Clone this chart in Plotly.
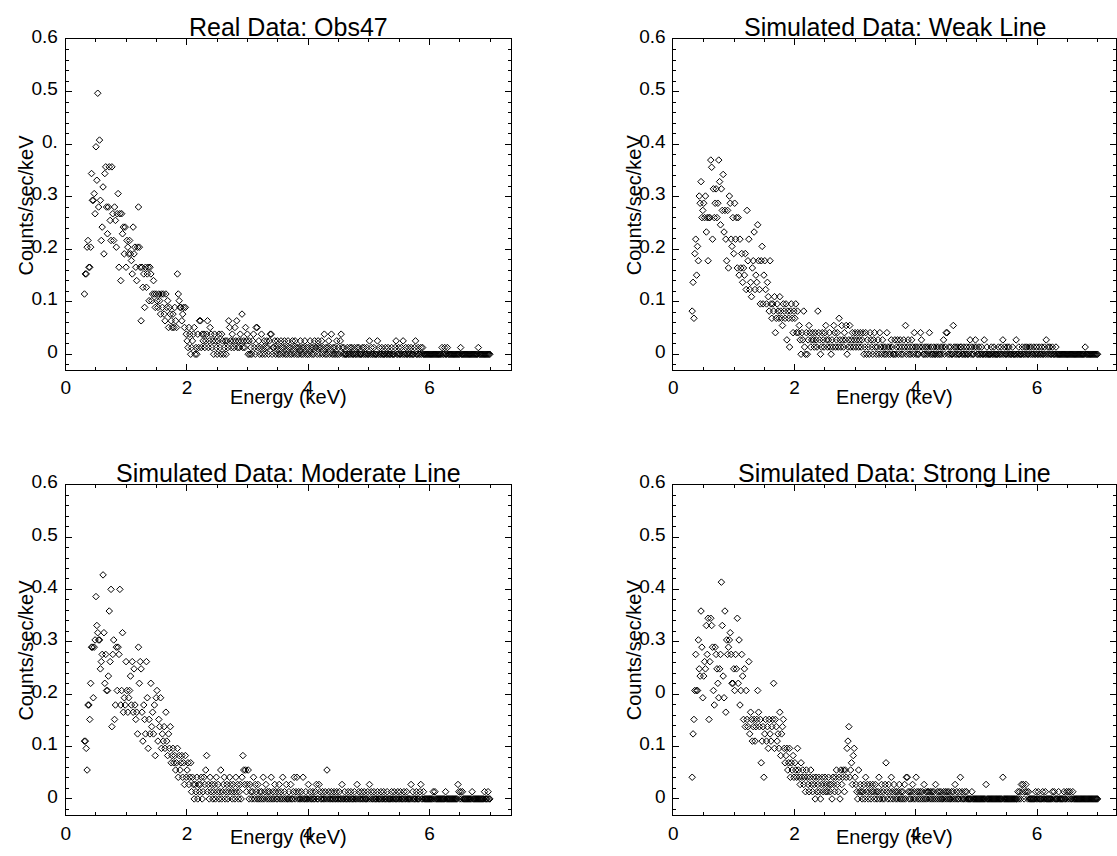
import numpy as np
import plotly.graph_objects as go

# Spectral channel grid (keV)
FIRST_CHANNEL_KEV = 0.31
CHANNEL_WIDTH_KEV = 0.0146

# Counts per channel for each spectrum
obs47_counts = [
    9, 12, 12, 16, 17, 13, 13, 16, 27, 23,
    23, 24, 21, 31, 26, 39, 22, 32, 23, 17,
    19, 25, 15, 27, 28, 22, 18, 22, 28, 20,
    17, 28, 21, 17, 22, 20, 16, 21, 24, 13,
    21, 11, 21, 18, 19, 15, 19, 13, 17, 16,
    15, 17, 15, 14, 12, 19, 15, 16, 13, 11,
    16, 22, 16, 13, 5, 13, 10, 12, 7, 13,
    10, 12, 13, 8, 13, 12, 8, 9, 11, 9,
    7, 9, 8, 7, 9, 8, 6, 9, 7, 9,
    6, 5, 9, 7, 8, 4, 7, 6, 5, 4,
    6, 4, 7, 5, 4, 12, 9, 8, 7, 7,
    5, 6, 7, 4, 7, 3, 2, 1, 4, 3,
    0, 1, 2, 3, 4, 0, 1, 0, 3, 1,
    5, 5, 1, 3, 2, 3, 1, 2, 3, 5,
    1, 2, 4, 3, 1, 2, 0, 3, 2, 1,
    0, 2, 3, 1, 0, 3, 2, 0, 1, 2,
    0, 2, 1, 5, 4, 2, 1, 3, 2, 1,
    4, 2, 5, 1, 2, 1, 3, 2, 6, 1,
    2, 1, 4, 2, 3, 0, 2, 0, 1, 0,
    2, 3, 1, 0, 4, 4, 1, 2, 0, 1,
    3, 0, 1, 2, 0, 1, 2, 1, 0, 2,
    3, 3, 0, 1, 1, 2, 0, 1, 2, 0,
    1, 0, 2, 1, 0, 1, 2, 0, 1, 0,
    2, 1, 0, 1, 0, 2, 1, 0, 2, 1,
    0, 1, 0, 1, 2, 0, 1, 0, 1, 2,
    0, 1, 0, 1, 0, 2, 1, 0, 1, 0,
    2, 1, 1, 0, 2, 1, 0, 1, 2, 0,
    1, 3, 0, 1, 0, 1, 2, 0, 1, 3,
    0, 1, 0, 1, 0, 2, 0, 1, 0, 2,
    3, 1, 0, 1, 0, 0, 0, 1, 0, 0,
    1, 0, 1, 0, 0, 1, 0, 0, 1, 0,
    1, 0, 0, 0, 1, 0, 1, 0, 0, 1,
    0, 0, 2, 0, 1, 0, 0, 1, 0, 0,
    0, 2, 0, 1, 0, 0, 1, 0, 0, 0,
    1, 0, 0, 1, 0, 0, 0, 1, 0, 0,
    0, 1, 2, 0, 0, 1, 0, 0, 1, 0,
    2, 0, 0, 1, 0, 0, 1, 0, 0, 1,
    0, 0, 0, 1, 2, 0, 0, 1, 0, 0,
    1, 0, 1, 0, 0, 0, 0, 0, 0, 0,
    0, 0, 0, 0, 0, 0, 0, 0, 0, 0,
    0, 0, 0, 0, 1, 0, 0, 1, 0, 0,
    1, 0, 0, 0, 0, 0, 0, 0, 0, 0,
    0, 0, 0, 0, 0, 1, 0, 0, 0, 0,
    0, 0, 0, 0, 0, 0, 0, 0, 0, 0,
    0, 0, 0, 0, 0, 1, 0, 0, 0, 0,
    0, 0, 0, 0, 0, 0, 0, 0, 0,
]

weak_counts = [
    6, 10, 5, 14, 16, 11, 15, 13, 22, 21,
    24, 19, 20, 21, 19, 22, 17, 19, 13, 19,
    19, 27, 26, 16, 23, 19, 21, 23, 19, 21,
    27, 24, 18, 23, 20, 25, 17, 20, 16, 13,
    20, 12, 22, 21, 16, 15, 19, 14, 21, 16,
    19, 12, 19, 11, 16, 12, 14, 10, 12, 11,
    14, 9, 20, 13, 16, 9, 10, 8, 12, 13,
    17, 9, 11, 10, 18, 13, 9, 7, 13, 15,
    7, 11, 13, 9, 7, 10, 8, 6, 13, 7,
    5, 7, 6, 8, 3, 5, 7, 6, 5, 8,
    6, 5, 4, 7, 6, 5, 7, 2, 6, 5,
    1, 6, 7, 5, 3, 6, 5, 7, 3, 6,
    3, 4, 2, 0, 3, 2, 6, 1, 0, 3,
    0, 2, 4, 3, 1, 2, 3, 2, 1, 3,
    2, 1, 6, 3, 2, 0, 1, 3, 2, 1,
    3, 4, 2, 1, 2, 3, 1, 0, 2, 1,
    4, 3, 1, 2, 3, 1, 5, 2, 1, 4,
    2, 1, 3, 2, 4, 0, 1, 2, 4, 1,
    2, 3, 1, 2, 3, 1, 2, 3, 1, 2,
    3, 1, 2, 3, 0, 1, 3, 0, 2, 1,
    0, 3, 2, 1, 0, 2, 3, 1, 0, 1,
    2, 0, 3, 1, 0, 2, 1, 0, 1, 0,
    3, 1, 0, 1, 0, 2, 1, 0, 0, 2,
    0, 1, 2, 0, 1, 2, 0, 1, 0, 2,
    1, 4, 0, 1, 2, 0, 1, 0, 2, 1,
    0, 3, 1, 0, 1, 0, 0, 1, 3, 2,
    1, 0, 0, 1, 0, 1, 0, 1, 3, 0,
    1, 0, 0, 1, 0, 0, 1, 0, 1, 0,
    0, 1, 0, 1, 2, 0, 1, 3, 3, 0,
    1, 0, 1, 0, 0, 4, 1, 0, 1, 0,
    1, 0, 0, 1, 1, 0, 0, 1, 0, 0,
    1, 0, 0, 1, 2, 0, 1, 0, 0, 1,
    2, 1, 0, 0, 1, 0, 0, 1, 0, 0,
    2, 0, 0, 1, 0, 0, 0, 0, 1, 0,
    0, 1, 0, 0, 0, 0, 1, 0, 0, 1,
    0, 2, 0, 1, 0, 0, 1, 0, 1, 0,
    0, 0, 1, 0, 0, 0, 2, 0, 0, 1,
    0, 0, 0, 1, 0, 0, 1, 0, 1, 0,
    0, 1, 0, 1, 0, 0, 1, 0, 0, 1,
    0, 0, 1, 0, 0, 1, 0, 0, 1, 0,
    2, 0, 1, 0, 1, 0, 0, 1, 0, 0,
    0, 1, 0, 0, 0, 0, 0, 0, 0, 0,
    0, 0, 0, 0, 0, 0, 0, 0, 0, 0,
    0, 0, 0, 0, 0, 0, 0, 0, 0, 0,
    0, 0, 0, 0, 1, 0, 0, 0, 0, 0,
    0, 0, 0, 0, 0, 0, 0, 0, 0,
]

moderate_counts = [
    8, 8, 7, 4, 13, 13, 11, 16, 21, 21,
    14, 21, 22, 28, 24, 23, 22, 22, 18, 19,
    20, 31, 23, 16, 20, 15, 15, 17, 26, 19,
    29, 10, 20, 22, 11, 13, 21, 15, 21, 20,
    29, 13, 15, 23, 12, 14, 13, 19, 15, 12,
    14, 15, 17, 13, 19, 12, 18, 13, 11, 12,
    9, 21, 16, 19, 18, 12, 8, 13, 11, 9,
    19, 14, 7, 11, 9, 16, 10, 12, 9, 13,
    6, 14, 15, 8, 11, 10, 14, 7, 9, 8,
    10, 7, 12, 8, 6, 9, 7, 10, 5, 6,
    7, 5, 6, 4, 5, 7, 3, 6, 4, 5,
    6, 3, 5, 2, 6, 3, 4, 5, 2, 3,
    5, 1, 3, 2, 0, 2, 1, 3, 0, 2,
    1, 2, 3, 0, 1, 3, 2, 4, 6, 1,
    2, 0, 3, 1, 2, 0, 1, 2, 0, 3,
    1, 2, 0, 1, 4, 0, 1, 2, 3, 0,
    1, 2, 0, 1, 3, 2, 1, 0, 2, 1,
    0, 3, 1, 2, 0, 1, 2, 0, 3, 6,
    4, 2, 4, 1, 2, 4, 0, 2, 1, 0,
    1, 3, 0, 2, 1, 0, 2, 0, 1, 0,
    1, 0, 3, 0, 1, 2, 0, 1, 0, 1,
    0, 3, 0, 1, 0, 2, 1, 0, 0, 1,
    2, 0, 1, 0, 3, 0, 1, 0, 2, 0,
    0, 1, 0, 2, 0, 0, 1, 3, 0, 1,
    3, 0, 1, 0, 0, 1, 0, 3, 0, 0,
    1, 0, 0, 2, 0, 1, 0, 0, 1, 0,
    0, 1, 2, 0, 0, 2, 1, 0, 0, 1,
    0, 0, 1, 0, 4, 0, 1, 0, 0, 1,
    0, 0, 1, 0, 0, 1, 0, 0, 1, 0,
    0, 2, 0, 0, 1, 0, 0, 0, 1, 0,
    0, 1, 0, 0, 0, 1, 0, 0, 2, 0,
    1, 0, 0, 1, 0, 0, 1, 0, 0, 0,
    1, 0, 2, 0, 1, 0, 0, 1, 0, 0,
    0, 1, 0, 0, 0, 1, 0, 0, 1, 0,
    0, 0, 1, 0, 0, 0, 0, 1, 0, 0,
    1, 0, 0, 0, 1, 0, 0, 1, 0, 0,
    0, 1, 0, 0, 1, 0, 0, 0, 0, 2,
    0, 1, 0, 0, 0, 1, 0, 0, 0, 1,
    2, 0, 0, 1, 0, 0, 0, 0, 0, 0,
    0, 0, 0, 0, 1, 0, 1, 0, 0, 0,
    0, 0, 0, 0, 0, 0, 0, 0, 1, 0,
    0, 0, 0, 0, 0, 0, 0, 0, 0, 0,
    0, 0, 2, 1, 0, 1, 0, 1, 0, 0,
    0, 0, 0, 0, 0, 0, 0, 0, 1, 0,
    0, 0, 0, 0, 0, 0, 0, 0, 0, 0,
    0, 0, 1, 0, 0, 0, 1, 0, 0,
]

strong_counts = [
    3, 9, 11, 15, 20, 15, 15, 22, 18, 17,
    26, 21, 14, 17, 19, 18, 24, 20, 25, 11,
    19, 25, 24, 21, 15, 13, 21, 20, 18, 16,
    14, 18, 20, 30, 24, 17, 14, 26, 12, 22,
    20, 21, 22, 23, 20, 16, 16, 18, 15, 20,
    18, 25, 16, 22, 13, 15, 20, 17, 11, 18,
    10, 15, 11, 10, 19, 9, 12, 11, 8, 10,
    11, 8, 10, 11, 15, 12, 10, 11, 5, 8,
    10, 3, 9, 11, 8, 10, 7, 11, 9, 8,
    10, 11, 16, 7, 11, 10, 8, 9, 7, 12,
    6, 9, 10, 11, 7, 5, 6, 7, 4, 5,
    7, 3, 5, 4, 6, 3, 5, 4, 3, 7,
    4, 3, 2, 5, 3, 4, 2, 3, 1, 4,
    3, 2, 1, 3, 4, 2, 1, 3, 2, 0,
    3, 1, 2, 3, 1, 0, 2, 3, 1, 2,
    3, 1, 2, 1, 3, 2, 1, 2, 0, 3,
    2, 1, 3, 4, 2, 1, 3, 0, 4, 2,
    3, 4, 1, 4, 3, 7, 8, 10, 3, 4,
    5, 2, 6, 7, 3, 2, 1, 0, 4, 1,
    2, 1, 0, 1, 2, 0, 3, 1, 2, 0,
    1, 2, 0, 1, 2, 1, 0, 2, 1, 0,
    1, 3, 0, 1, 2, 0, 1, 0, 2, 5,
    1, 0, 2, 1, 0, 3, 1, 0, 2, 1,
    0, 1, 0, 1, 2, 0, 1, 0, 1, 0,
    2, 0, 3, 3, 1, 0, 1, 0, 1, 2,
    0, 1, 0, 3, 1, 0, 1, 0, 1, 0,
    1, 0, 2, 0, 1, 0, 1, 1, 0, 1,
    0, 1, 0, 1, 0, 2, 0, 1, 0, 1,
    0, 1, 0, 0, 1, 0, 1, 0, 1, 0,
    1, 0, 0, 1, 0, 1, 0, 2, 0, 1,
    0, 0, 1, 3, 0, 1, 0, 0, 1, 0,
    1, 0, 0, 0, 0, 0, 1, 0, 0, 0,
    0, 0, 0, 0, 0, 0, 0, 0, 0, 0,
    0, 0, 2, 0, 0, 0, 0, 0, 0, 0,
    0, 0, 0, 0, 0, 0, 0, 0, 0, 0,
    0, 3, 0, 0, 0, 0, 0, 0, 0, 0,
    0, 0, 0, 0, 0, 0, 0, 0, 1, 0,
    1, 0, 2, 1, 2, 0, 1, 2, 1, 0,
    1, 0, 0, 0, 0, 0, 0, 0, 1, 0,
    0, 1, 0, 0, 0, 0, 1, 0, 0, 1,
    0, 0, 0, 0, 0, 0, 0, 1, 0, 1,
    0, 0, 0, 0, 1, 0, 0, 0, 0, 0,
    1, 0, 0, 1, 0, 1, 0, 1, 0, 0,
    1, 0, 0, 0, 0, 0, 0, 0, 0, 0,
    0, 0, 0, 0, 0, 0, 0, 0, 0, 0,
    0, 0, 0, 0, 0, 0, 0, 0, 0,
]

# Conversion from counts to counts/sec/keV
obs47_rate_per_count = 0.01275
weak_rate_per_count = 0.0137
moderate_rate_per_count = 0.0138
strong_rate_per_count = 0.0138

panel_titles = [
    "Real Data: Obs47",
    "Simulated Data: Weak Line",
    "Simulated Data: Moderate Line",
    "Simulated Data: Strong Line",
]
x_tick_values = [0, 2, 4, 6]
x_tick_labels = ["0", "2", "4", "6"]
y_tick_values = [0, 0.1, 0.2, 0.3, 0.4, 0.5, 0.6]
y_tick_labels = ["0", "0.1", "0.2", "0.3", "0.4", "0.5", "0.6"]
# tick labels as they come out where the axis title runs over them
y_tick_labels_obs47 = ["0", "0.1", "0.2", "0.3", "0.", "0.5", "0.6"]
y_tick_labels_strong = ["0", "0.1", "0", "0.3", "0.4", "0.5", "0.6"]

x_title = "Energy (keV)"
y_title = "Counts/sec/keV"

W, H = 1117, 856
FONT = "Liberation Sans, Arial, Helvetica, sans-serif"

# Plot boxes in pixels: (left, right, top, bottom), plus the row's label offsets
boxes = [
    (61, 509, 26.7, 362.5),
    (672, 1117, 26.7, 362.5),
    (61, 509, 479.0, 814.0),
    (672, 1117, 479.0, 814.0),
]
row_label_offsets = [  # (x tick label standoff, x title offset below frame)
    (0, 27),
    (0, 27),
    (2, 23),
    (2, 23),
]
KEV_PER_PX = 7.35 / (509 - 61)


def px_x(x):
    return x / W


def px_y(y):
    return 1 - y / H


spectra = [
    (obs47_counts, obs47_rate_per_count, y_tick_labels_obs47),
    (weak_counts, weak_rate_per_count, y_tick_labels),
    (moderate_counts, moderate_rate_per_count, y_tick_labels),
    (strong_counts, strong_rate_per_count, y_tick_labels_strong),
]

fig = go.Figure()
annotations = []
layout_axes = {}

for i, ((counts, rate, ylabels), box, title, offs) in enumerate(
        zip(spectra, boxes, panel_titles, row_label_offsets)):
    n = i + 1
    xa = "x" if n == 1 else f"x{n}"
    ya = "y" if n == 1 else f"y{n}"
    counts = np.asarray(counts)
    energy = FIRST_CHANNEL_KEV + CHANNEL_WIDTH_KEV * np.arange(len(counts))
    rate_kev = counts * rate

    fig.add_trace(go.Scatter(
        x=energy, y=rate_kev, mode="markers", xaxis=xa, yaxis=ya,
        marker=dict(symbol="diamond-open", size=5, color="black",
                    line=dict(width=1, color="black")),
        showlegend=False, hoverinfo="x+y",
    ))

    left, right, top, bottom = box
    x_standoff, x_title_offset = offs
    axis_common = dict(
        showline=True, linecolor="black", linewidth=1, mirror="ticks",
        ticks="inside", tickcolor="black", tickwidth=1,
        showgrid=False, zeroline=False,
        tickfont=dict(family=FONT, size=19, color="black"),
    )
    layout_axes["xaxis" if n == 1 else f"xaxis{n}"] = dict(
        axis_common,
        domain=[px_x(left), px_x(right)],
        range=[0, (right - left) * KEV_PER_PX],
        anchor=ya, tickmode="array", tickvals=x_tick_values, ticktext=x_tick_labels,
        ticklen=6, ticklabelstandoff=x_standoff,
        minor=dict(ticks="inside", ticklen=3, dtick=0.5, tick0=0, tickcolor="black", showgrid=False),
    )
    layout_axes["yaxis" if n == 1 else f"yaxis{n}"] = dict(
        axis_common,
        domain=[px_y(bottom), px_y(top)],
        range=[-0.03, 0.6],
        anchor=xa, tickmode="array", tickvals=y_tick_values, ticktext=ylabels,
        ticklen=6, ticklabelstandoff=3, ticklabelshift=-3,
        minor=dict(ticks="inside", ticklen=3, dtick=0.02, tick0=0, tickcolor="black", showgrid=False),
    )

    cx = (left + min(right, left + 448)) / 2
    # panel title
    annotations.append(dict(
        text=title, x=px_x(cx), y=px_y(top - 12), xref="paper", yref="paper",
        xanchor="center", yanchor="middle", showarrow=False,
        font=dict(family=FONT, size=25, color="black"),
    ))
    # x axis title
    annotations.append(dict(
        text=x_title, x=px_x(cx), y=px_y(bottom + x_title_offset), xref="paper", yref="paper",
        xanchor="center", yanchor="middle", showarrow=False,
        font=dict(family=FONT, size=20, color="black"),
    ))
    # y axis title
    annotations.append(dict(
        text=y_title, x=px_x(left - 40), y=px_y((top + bottom) / 2), xref="paper", yref="paper",
        xanchor="center", yanchor="middle", showarrow=False, textangle=-90,
        font=dict(family=FONT, size=20, color="black"),
    ))

fig.update_layout(
    width=W, height=H,
    margin=dict(l=0, r=0, t=0, b=0),
    paper_bgcolor="white", plot_bgcolor="white",
    annotations=annotations,
    **layout_axes,
)

fig.write_html("out.html")
